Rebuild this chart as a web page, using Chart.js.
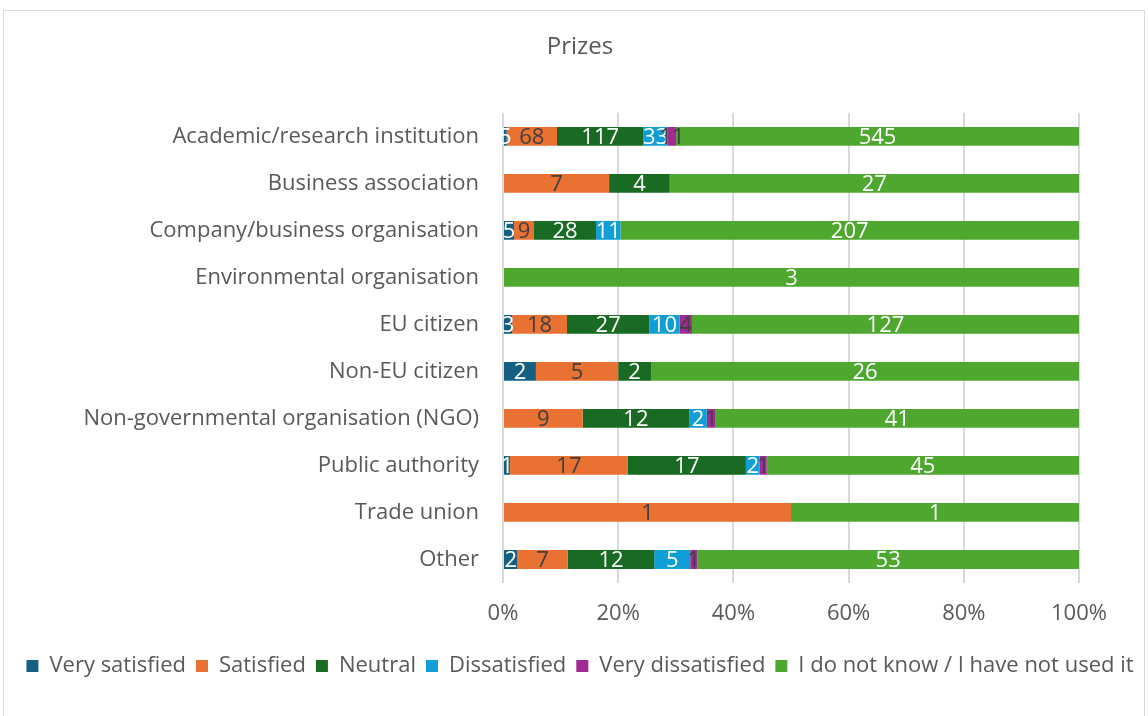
<!DOCTYPE html>
<html>
<head>
<meta charset="utf-8">
<title>Prizes</title>
<script src="https://cdn.jsdelivr.net/npm/chart.js@4.4.1/dist/chart.umd.min.js"></script>
<style>
  html, body { margin: 0; padding: 0; background: #fff; overflow: hidden; }
  .frame {
    position: absolute; left: 3px; top: 10px; width: 1142px; height: 720px;
    border: 1px solid #d9d9d9; box-sizing: border-box;
  }
  .wrap { position: absolute; left: 0; top: 0; width: 1148px; height: 716px; }
</style>
</head>
<body>
<div class="frame"></div>
<div class="wrap"><canvas id="chart" width="1148" height="716"></canvas></div>
<script>
const categories = [
  'Academic/research institution',
  'Business association',
  'Company/business organisation',
  'Environmental organisation',
  'EU citizen',
  'Non-EU citizen',
  'Non-governmental organisation (NGO)',
  'Public authority',
  'Trade union',
  'Other'
];

// answer counts per respondent type
const verySatisfied    = [5, 0, 5, 0, 3, 2, 0, 1, 0, 2];
const satisfied        = [68, 7, 9, 0, 18, 5, 9, 17, 1, 7];
const neutral          = [117, 4, 28, 0, 27, 2, 12, 17, 0, 12];
const dissatisfied     = [33, 0, 11, 0, 10, 0, 2, 2, 0, 5];
const veryDissatisfied = [11, 0, 0, 0, 4, 0, 1, 1, 0, 1];
const notUsed          = [545, 27, 207, 3, 127, 26, 41, 45, 1, 53];

const xTicks = [0, 20, 40, 60, 80, 100];

const FONT = "'Open Sans', 'Liberation Sans', sans-serif";
const GREY = '#595959';

const series = [
  { label: 'Very satisfied', counts: verySatisfied, color: '#156082', text: '#ffffff' },
  { label: 'Satisfied', counts: satisfied, color: '#e97132', text: '#404040' },
  { label: 'Neutral', counts: neutral, color: '#196b24', text: '#ffffff' },
  { label: 'Dissatisfied', counts: dissatisfied, color: '#0f9ed5', text: '#ffffff' },
  { label: 'Very dissatisfied', counts: veryDissatisfied, color: '#a02b93', text: '#404040' },
  { label: 'I do not know / I have not used it', counts: notUsed, color: '#4ea72e', text: '#ffffff' }
];

// row totals, so each bar adds up to 100%
const totals = categories.map((c, i) => series.reduce((s, d) => s + d.counts[i], 0));

// write the count in the middle of each segment
const countLabels = {
  id: 'countLabels',
  afterDatasetsDraw(chart) {
    const ctx = chart.ctx;
    ctx.save();
    ctx.font = '22px ' + FONT;
    ctx.textAlign = 'center';
    ctx.textBaseline = 'middle';
    chart.data.datasets.forEach((ds, di) => {
      const meta = chart.getDatasetMeta(di);
      meta.data.forEach((bar, i) => {
        const n = series[di].counts[i];
        if (!n) return;
        ctx.fillStyle = series[di].text;
        ctx.fillText(String(n), (bar.base + bar.x) / 2, bar.y + 1);
      });
    });
    ctx.restore();
  }
};

new Chart(document.querySelector('#chart').getContext('2d'), {
  type: 'bar',
  data: {
    labels: categories,
    datasets: series.map(s => ({
      label: s.label,
      data: s.counts.map((v, i) => v / totals[i] * 100),
      backgroundColor: s.color,
      borderWidth: 0,
      categoryPercentage: 1,
      barPercentage: 0.4
    }))
  },
  options: {
    indexAxis: 'y',
    responsive: false,
    animation: false,
    layout: { padding: { left: 12, right: 0, top: 0, bottom: 29 } },
    plugins: {
      tooltip: { enabled: false },
      title: {
        display: true,
        text: 'Prizes',
        color: GREY,
        font: { family: FONT, size: 24, weight: 'normal' },
        padding: { top: 33, bottom: 51 }
      },
      legend: {
        position: 'bottom',
        labels: {
          color: GREY,
          font: { family: FONT, size: 22 },
          boxWidth: 12,
          boxHeight: 12,
          padding: 10
        }
      }
    },
    scales: {
      x: {
        stacked: true,
        min: 0,
        max: 100,
        afterBuildTicks: axis => { axis.ticks = xTicks.map(v => ({ value: v })); },
        afterFit: axis => { axis.height = 62; },
        ticks: {
          color: GREY,
          font: { family: FONT, size: 22 },
          padding: 18,
          callback: v => v + '%'
        },
        grid: { color: '#d9d9d9', lineWidth: 2, drawTicks: false },
        border: { display: false }
      },
      y: {
        stacked: true,
        afterFit: axis => { axis.width = 491; },
        ticks: {
          color: GREY,
          font: { family: FONT, size: 22 },
          padding: 16
        },
        grid: { display: false },
        border: { display: false }
      },
      // empty strip on the right so the plot ends before the frame edge
      gutter: {
        type: 'linear',
        position: 'right',
        afterFit: axis => { axis.width = 69; },
        ticks: { display: false },
        grid: { display: false },
        border: { display: false }
      }
    }
  },
  plugins: [countLabels]
});
</script>
</body>
</html>
